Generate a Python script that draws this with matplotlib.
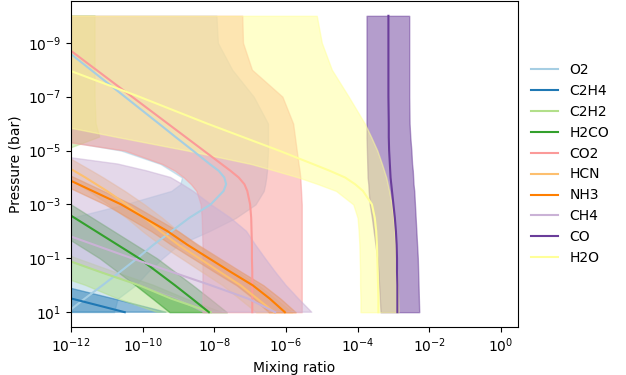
import numpy as np
import matplotlib
matplotlib.use("Agg")
import matplotlib.pyplot as plt
from matplotlib.ticker import FixedLocator, NullLocator

# pressure levels (log10 bar) shared by every profile
log_p = np.array([-10, -9, -8, -7, -6, -5.5, -5, -4.5, -4.25, -4, -3.75, -3.5,
                  -3, -2.5, -2, -1.5, -1, -0.5, 0, 0.5, 1])

species = ["O2", "C2H4", "C2H2", "H2CO", "CO2", "HCN", "NH3", "CH4", "CO", "H2O"]
colors = ["#a6cee3", "#1f78b4", "#b2df8a", "#33a02c", "#fb9a99",
          "#fdbf6f", "#ff7f00", "#cab2d6", "#6a3d9a", "#ffff99"]

# log10 mixing ratio: median, lower and upper envelope
o2_med = np.array([-13.35, -12.4, -11.45, -10.5, -9.55, -9.08, -8.6, -8.13, -7.88, -7.72, -7.67, -7.74,
                   -8.1, -8.7, -9.2, -9.7, -10.15, -10.63, -11.12, -11.62, -12.1])
o2_lo = np.array([-20, -19, -18, -17, -15, -12.8, -10.6, -9.5, -9.2, -8.9, -8.95, -9.2,
                  -10.5, -12, -13, -14, -15, -16, -17, -18, -19])
o2_hi = np.array([-7.94, -7.9, -7.5, -6.9, -6.5, -6.5, -6.5, -6.52, -6.53, -6.55, -6.58, -6.62,
                  -6.85, -7.4, -8.15, -9.0, -9.45, -9.85, -10.2, -10.7, -10.8])

c2h4_med = np.array([-43.5, -40.5, -37.5, -34.5, -31.5, -30, -28.5, -27, -26.25, -25.5, -24.75, -24,
                     -22.5, -21, -19.5, -18, -16.5, -15, -13.5, -11.97, -10.5])
c2h4_lo = c2h4_med - 2.0
c2h4_hi = c2h4_med + 1.15

c2h2_med = np.array([-31, -29, -27, -25, -23, -22, -21, -19.9, -19.35, -18.8, -18.25, -17.7,
                     -16.6, -15.5, -14.4, -13.3, -12.25, -11.2, -10.1, -9.2, -8.1])
c2h2_lo = c2h2_med - 1.5
c2h2_hi = np.array([-11.33, -11.33, -11.33, -11.33, -11.3, -11.2, -12.2, -13, -13.3, -13.5, -13.8, -14,
                    -14.5, -14.5, -13.5, -12.8, -11.85, -10.8, -9.7, -8.8, -7.8])

h2co_med = np.array([-21, -19.8, -18.6, -17.4, -16.2, -15.6, -14.95, -14.3, -14.0, -13.7, -13.4, -13.1,
                     -12.5, -11.9, -11.3, -10.7, -10.1, -9.6, -9.1, -8.62, -8.15])
h2co_lo = h2co_med - 1.1
h2co_hi = h2co_med + 0.5

co2_med = np.array([-13.3, -12.3, -11.3, -10.3, -9.3, -8.8, -8.3, -7.8, -7.55, -7.32, -7.16, -7.08,
                    -7.0, -6.97, -6.96, -6.95, -6.95, -6.94, -6.94, -6.94, -6.94])
co2_lo = np.array([-20, -19, -18, -17, -15, -13.0, -10.5, -9.45, -9.1, -8.85, -8.65, -8.5,
                   -8.38, -8.35, -8.34, -8.33, -8.33, -8.33, -8.33, -8.33, -8.33])
co2_hi = np.array([-7.22, -7.2, -6.95, -6.1, -5.8, -5.75, -5.7, -5.65, -5.62, -5.6, -5.59, -5.58,
                   -5.56, -5.56, -5.56, -5.56, -5.56, -5.56, -5.56, -5.56, -5.56])

hcn_med = np.array([-19, -18, -17, -16, -14.5, -13.7, -12.9, -12.25, -11.92, -11.6, -11.3, -11.0,
                    -10.45, -9.95, -9.5, -9.0, -8.42, -7.85, -7.27, -6.8, -6.33])
hcn_lo = hcn_med - 0.5
hcn_hi = hcn_med + 0.5

nh3_med = np.array([-22.5, -20.8, -19.1, -17.4, -15.7, -14.8, -13.9, -13.05, -12.62, -12.2, -11.8, -11.4,
                    -10.6, -9.95, -9.3, -8.75, -8.15, -7.55, -6.93, -6.45, -6.03])
nh3_lo = nh3_med - 0.45
nh3_hi = nh3_med + 0.3

ch4_med = np.array([-30, -28, -26, -24, -21.5, -20.2, -19, -18, -17.4, -16.8, -16.25, -15.7,
                    -14.6, -13.5, -12.4, -11.35, -10.3, -9.2, -8.1, -7.05, -6.3])
ch4_lo = ch4_med - 2.0
ch4_hi = np.array([-20, -18.5, -17, -15.5, -14, -15, -13.5, -10.7, -9.9, -9.22, -8.9, -8.6,
                   -8.1, -7.55, -7.1, -6.85, -6.58, -6.3, -6.0, -5.65, -5.28])

co_med = np.array([-3.14, -3.14, -3.14, -3.14, -3.13, -3.13, -3.12, -3.1, -3.09, -3.08, -3.06, -3.04,
                   -3.0, -2.96, -2.93, -2.91, -2.9, -2.9, -2.89, -2.89, -2.89])
co_lo = np.array([-3.75, -3.75, -3.75, -3.75, -3.75, -3.75, -3.74, -3.73, -3.725, -3.72, -3.7, -3.69,
                  -3.66, -3.6, -3.55, -3.5, -3.45, -3.42, -3.4, -3.38, -3.36])
co_hi = np.array([-2.56, -2.56, -2.56, -2.56, -2.55, -2.53, -2.5, -2.48, -2.46, -2.45, -2.44, -2.42,
                  -2.4, -2.38, -2.36, -2.34, -2.32, -2.31, -2.3, -2.29, -2.28])

h2o_med = np.array([-16.0, -14.05, -12.1, -10.1, -8.2, -7.2, -6.2, -5.25, -4.78, -4.35, -4.07, -3.85,
                    -3.6, -3.52, -3.48, -3.46, -3.45, -3.44, -3.43, -3.42, -3.42])
h2o_lo = np.array([-20, -18, -16, -14.5, -12.6, -10.7, -8.75, -6.97, -6.3, -5.65, -5.1, -4.6,
                   -4.12, -4.0, -3.97, -3.95, -3.94, -3.93, -3.93, -3.92, -3.92])
h2o_hi = np.array([-5.14, -5.0, -4.72, -4.25, -3.8, -3.62, -3.45, -3.32, -3.26, -3.2, -3.16, -3.12,
                   -3.05, -3.0, -2.97, -2.95, -2.92, -2.9, -2.88, -2.87, -2.86])

profiles = [
    (o2_med, o2_lo, o2_hi),
    (c2h4_med, c2h4_lo, c2h4_hi),
    (c2h2_med, c2h2_lo, c2h2_hi),
    (h2co_med, h2co_lo, h2co_hi),
    (co2_med, co2_lo, co2_hi),
    (hcn_med, hcn_lo, hcn_hi),
    (nh3_med, nh3_lo, nh3_hi),
    (ch4_med, ch4_lo, ch4_hi),
    (co_med, co_lo, co_hi),
    (h2o_med, h2o_lo, h2o_hi),
]

pressure = 10.0 ** log_p

fig = plt.figure(figsize=(6.26, 3.75), dpi=100)
ax = fig.add_axes([71 / 626, 48 / 375, 447 / 626, 326 / 375])

for name, col, (med, lo, hi) in zip(species, colors, profiles):
    ax.fill_betweenx(pressure, 10.0 ** lo, 10.0 ** hi, color=col, alpha=0.5)
    ax.plot(10.0 ** med, pressure, color=col, lw=1.5, label=name)

ax.set_xscale("log")
ax.set_yscale("log")
ax.set_xlim(1e-12, 3)
ax.set_ylim(10 ** 1.55, 10 ** -10.55)
ax.xaxis.set_major_locator(FixedLocator([1e-12, 1e-10, 1e-8, 1e-6, 1e-4, 1e-2, 1e0]))
ax.yaxis.set_major_locator(FixedLocator([1e-9, 1e-7, 1e-5, 1e-3, 1e-1, 1e1]))
ax.xaxis.set_minor_locator(NullLocator())
ax.yaxis.set_minor_locator(NullLocator())
ax.set_xlabel("Mixing ratio")
ax.set_ylabel("Pressure (bar)")
ax.legend(loc="center left", bbox_to_anchor=(1.0, 0.5), frameon=False)

fig.savefig("out.png", dpi=100)
